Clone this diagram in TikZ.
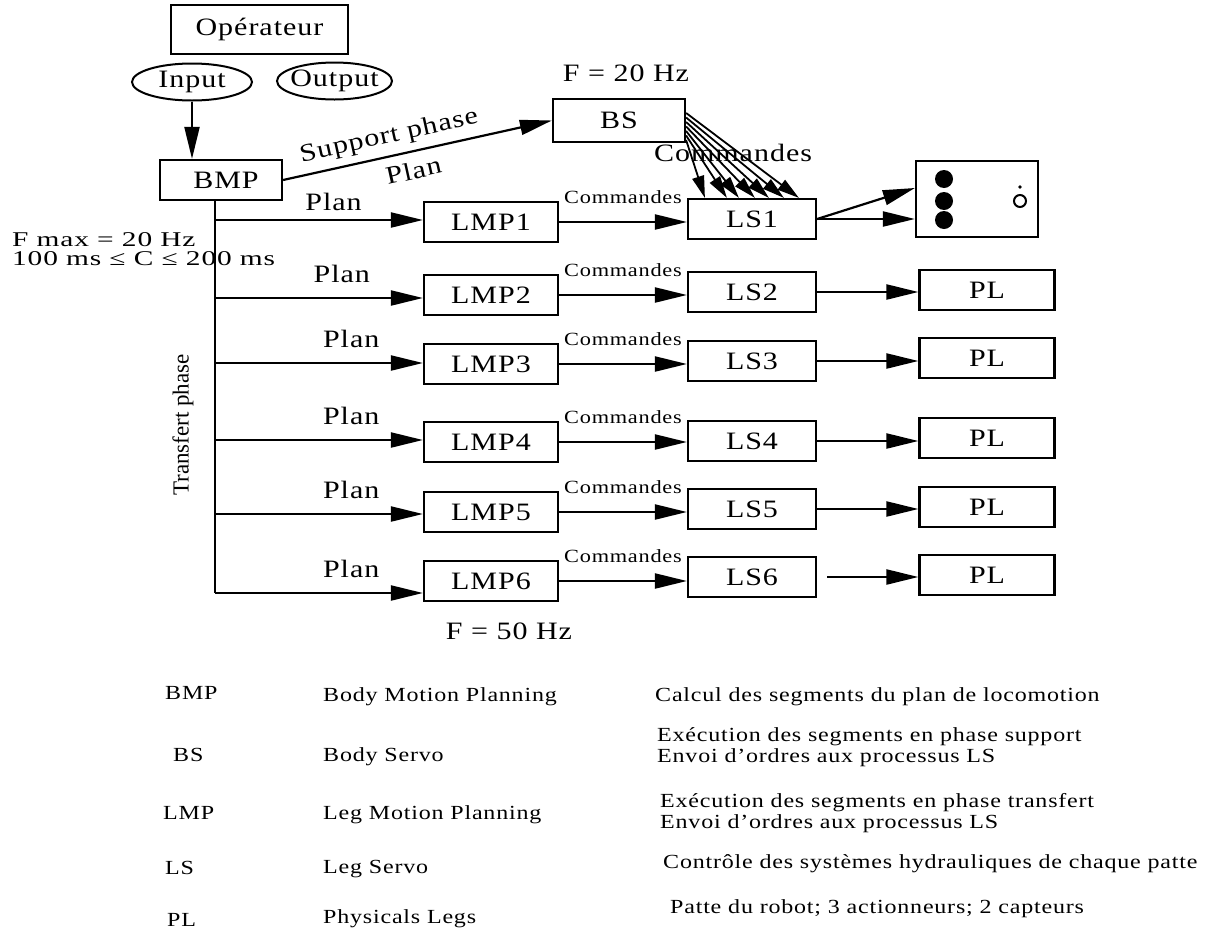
\documentclass[tikz,border=0pt]{standalone}
\usepackage{fontspec}
\setmainfont{Liberation Serif}[FakeStretch=1.2, LetterSpace=4]
\newfontfamily\narrowserif{Liberation Serif}
\newfontfamily\wideserif{Liberation Serif}[FakeStretch=1.4, LetterSpace=4]
\usetikzlibrary{arrows.meta, shapes.geometric}

\newcommand{\diagfont}{\fontsize{25}{28}\selectfont}
\newcommand{\cmdfont}{\fontsize{18.6}{21}\selectfont}
\newcommand{\fmfont}{\wideserif\fontsize{21}{19}\selectfont}
\newcommand{\legfont}{\fontsize{20}{21}\selectfont}
\newcommand{\trfont}{\narrowserif\fontsize{23}{26}\selectfont}

\tikzset{
  line/.style={line width=2.2pt},
  arr/.style={line width=2.2pt, -{Triangle[length=32pt, width=15pt]}},
  fanarr/.style={line width=1.8pt, -{Triangle[length=22pt, width=12pt]}},
  blk/.style={draw, line width=2.2pt, inner sep=0pt, font=\diagfont},
  oval/.style={draw, ellipse, line width=2pt, minimum width=120pt,
               minimum height=37pt, inner sep=0pt},
  diag/.style={inner sep=0pt, font=\diagfont},
  cmd/.style={inner sep=0pt, font=\cmdfont},
  leg/.style={inner sep=0pt, anchor=west, align=left, font=\legfont}
}

\begin{document}
\begin{tikzpicture}[x=1pt, y=-1pt]
  \useasboundingbox (0,0) rectangle (1226,932);

  % operateur and its ports
  \node[blk, minimum width=177pt, minimum height=49pt] (op) at (259.5,29.5) {Opérateur};
  \node[oval, label={[diag, name=inputtxt]center:Input}] (input) at (192,82) {};
  \node[oval, minimum width=115pt, label={[diag, name=outputtxt]center:Output}] (output) at (334.5,81) {};

  \node[blk, minimum width=122pt, minimum height=40pt] (bmp) at (221,180) {\hspace{10pt}BMP};
  \draw[arr] (input.south) -- (input.south |- bmp.north);

  % body servo
  \node[blk, minimum width=132pt, minimum height=43pt] (bs) at (619,120.5) {BS};
  \node[diag] (fbs) at (626,73) {F = 20 Hz};
  \draw[arr] (bmp.east) -- node[diag, sloped, above=7pt, pos=0.41] (sup) {Support phase}
    node[diag, sloped, below=9pt, pos=0.47] (supplan) {Plan} (bs.west);

  % legs: planning and servo
  \foreach \i/\ly/\sy/\by/\pp/\pa in {1/222/219/220/0.57/8, 2/295/292/298/0.61/14,
                                      3/364/361/363/0.655/14, 4/442/441/440/0.655/14,
                                      5/512/509/514/0.655/14, 6/581/577/593/0.655/14} {
    \node[blk, minimum width=134pt, minimum height=40pt] (lmp\i) at (491,\ly) {LMP\i};
    \node[blk, minimum width=128pt, minimum height=40pt] (ls\i) at (752,\sy) {LS\i};
    \coordinate (bus\i) at (215,\by);
    \draw[arr] (bus\i) -- node[diag, pos=\pp, above=\pa pt] (plan\i) {Plan} (bus\i -| lmp\i.west);
    \draw[arr] (lmp\i.east) -- node[cmd, midway, above=17pt] (cmd\i) {Commandes} (lmp\i.east -| ls\i.west);
  }
  \draw[line] (bus1 |- bmp.south) -- (bus6);

  \foreach \i/\py in {2/290, 3/358, 4/438, 5/507, 6/575} {
    \node[blk, minimum width=135pt, minimum height=40pt] (pl\i) at (987,\py) {PL};
  }
  \foreach \i in {2,...,5}
    \draw[arr] (ls\i.east) -- (ls\i.east -| pl\i.west);
  \draw[arr, shorten <=10pt] (ls6.east) -- (ls6.east -| pl6.west);

  % physical leg of LS1
  \node[blk, minimum width=122pt, minimum height=76pt] (leg) at (977,199) {};
  \foreach \dy in {179, 201, 220}
    \fill (944,\dy) circle (9pt);
  \draw[line width=2pt] (1020,201) circle (6pt);
  \fill (1020,187) circle (1.8pt);
  \draw[arr] (ls1.east) -- ([yshift=11pt]leg.west);
  \draw[arr] (ls1.east) -- (ls1.east -| leg.west);

  % commands from BS to LS1
  \node[diag] (cmdbs) at (733,153) {Commandes};
  \foreach \sy/\ex in {7.5/112, 3/97, -1.5/82, -6/68, -10.5/52, -15/40, -19.5/18}
    \draw[fanarr] ([yshift=\sy pt]bs.east) -- ([xshift=\ex pt]ls1.north west);

  \node[inner sep=0pt, anchor=west, align=left, font=\fmfont] (fmax) at (12,249)
    {F max = 20 Hz\\100 ms ≤ C ≤ 200 ms};
  \node[inner sep=0pt, rotate=90, font=\trfont] (trans) at (183,425) {Transfert phase};
  \node[diag] (flmp) at (509,631) {F = 50 Hz};

  % legend
  \foreach \n/\xa/\ya/\ab/\yb/\full in {bmp/165/693/BMP/697/Body Motion Planning,
                                         bs/173/755/BS/757/Body Servo,
                                         lmp/163/813/LMP/815/Leg Motion Planning,
                                         ls/165/868/LS/869/Leg Servo,
                                         pl/167/920/PL/919/Physicals Legs} {
    \node[leg] (key\n) at (\xa,\ya) {\ab};
    \node[leg] (name\n) at (323,\yb) {\full};
  }
  \node[leg] (descbmp) at (655,697) {Calcul des segments du plan de locomotion};
  \node[leg] (descbs) at (657,747) {Exécution des segments en phase support\\Envoi d'ordres aux processus LS};
  \node[leg] (desclmp) at (660,813) {Exécution des segments en phase transfert\\Envoi d'ordres aux processus LS};
  \node[leg] (descls) at (663,864) {Contrôle des systèmes hydrauliques de chaque patte};
  \node[leg] (descpl) at (670,909) {Patte du robot; 3 actionneurs; 2 capteurs};
\end{tikzpicture}
\end{document}
